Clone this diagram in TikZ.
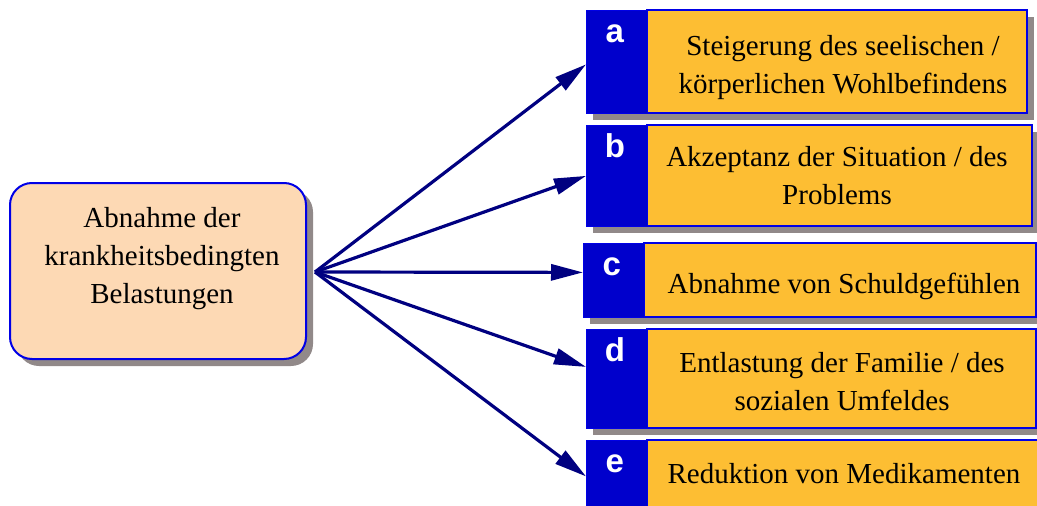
\documentclass[tikz,border=0pt]{standalone}
\usepackage{fontspec}
\setmainfont{Liberation Serif}
\newfontfamily\tabfont{Liberation Sans}
\usetikzlibrary{arrows.meta,shadows}

\definecolor{peach}{HTML}{FDD9B4}
\definecolor{panelorange}{HTML}{FDBE33}
\definecolor{tabblue}{HTML}{0000CC}
\definecolor{rimblue}{HTML}{0000E6}
\definecolor{shadowgray}{HTML}{918989}
\definecolor{arrownavy}{HTML}{000080}

\tikzset{
  srcbox/.style={draw=rimblue, line width=2pt, fill=peach, rounded corners=22pt,
    minimum width=296pt, minimum height=176pt, inner sep=0pt,
    drop shadow={shadow xshift=7pt, shadow yshift=-7pt, fill=shadowgray, opacity=1}},
  tab/.style={draw=rimblue, line width=0.8pt, fill=tabblue, minimum width=61pt,
    anchor=north west, inner sep=0pt},
  panel/.style={draw=rimblue, line width=2pt, fill=panelorange},
  backshade/.style={fill=shadowgray},
  letter/.style={font=\tabfont\bfseries\fontsize{33}{33}\selectfont, text=white,
    anchor=base, inner sep=0pt},
  txt/.style={font=\fontsize{29}{38}\selectfont, align=center, inner sep=0pt},
  arr/.style={draw=arrownavy, line width=3.2pt, -{Triangle[length=32pt,width=16pt]}}
}

\begin{document}
\begin{tikzpicture}[x=1pt,y=-1pt]
    \useasboundingbox (0,0) rectangle (1037,506);

    % source box
    \node[srcbox] (src) at (158,271) {};
    \node[txt] (srctxt) at (162,259) {Abnahme der\\krankheitsbedingten\\Belastungen};
    \coordinate (hub) at ([xshift=8pt,yshift=-1pt]src.east);

    % a
    \fill[backshade] (593,17) rectangle (1034,120);
    \draw[panel] (647,10) rectangle (1027,113);
    \node[tab, minimum height=103pt] (tabA) at (586,10) {};
    \node[letter] (letA) at ([xshift=-2pt,yshift=-32pt]tabA.north) {a};
    \node[txt] (txtA) at (843,68) {Steigerung des seelischen /\\körperlichen Wohlbefindens};

    % b
    \fill[backshade] (593,132) rectangle (1039,233);
    \draw[panel] (647,125) rectangle (1032,226);
    \node[tab, minimum height=101pt] (tabB) at (586,125) {};
    \node[letter] (letB) at ([xshift=-2pt,yshift=-32pt]tabB.north) {b};
    \node[txt] (txtB) at (837,176) {Akzeptanz der Situation / des\\Problems};

    % c
    \fill[backshade] (590,250) rectangle (1043,324);
    \draw[panel] (644,243) rectangle (1036,317);
    \node[tab, minimum height=74pt] (tabC) at (583,243) {};
    \node[letter] (letC) at ([xshift=-2pt,yshift=-32pt]tabC.north) {c};
    \node[txt] (txtC) at (844,286) {Abnahme von Schuldgefühlen};

    % d
    \fill[backshade] (593,336) rectangle (1043,435);
    \draw[panel] (647,329) rectangle (1036,428);
    \node[tab, minimum height=99pt] (tabD) at (586,329) {};
    \node[letter] (letD) at ([xshift=-2pt,yshift=-32pt]tabD.north) {d};
    \node[txt] (txtD) at (842,382) {Entlastung der Familie / des\\sozialen Umfeldes};

    % e
    \fill[backshade] (593,447) rectangle (1047,519);
    \draw[panel] (647,440) rectangle (1040,512);
    \node[tab, minimum height=72pt] (tabE) at (586,440) {};
    \node[letter] (letE) at ([xshift=-2pt,yshift=-32pt]tabE.north) {e};
    \node[txt] (txtE) at (844,474) {Reduktion von Medikamenten};

    % arrows
    \draw[arr] (hub) -- ([yshift=-2.5pt]tabA.west);
    \draw[arr] (hub) -- (tabB.west);
    \draw[arr] (hub) -- ([yshift=8pt]tabC.west);
    \draw[arr] (hub) -- ([yshift=12pt]tabD.west);
    \draw[arr] (hub) -- (tabE.west);

\end{tikzpicture}
\end{document}
